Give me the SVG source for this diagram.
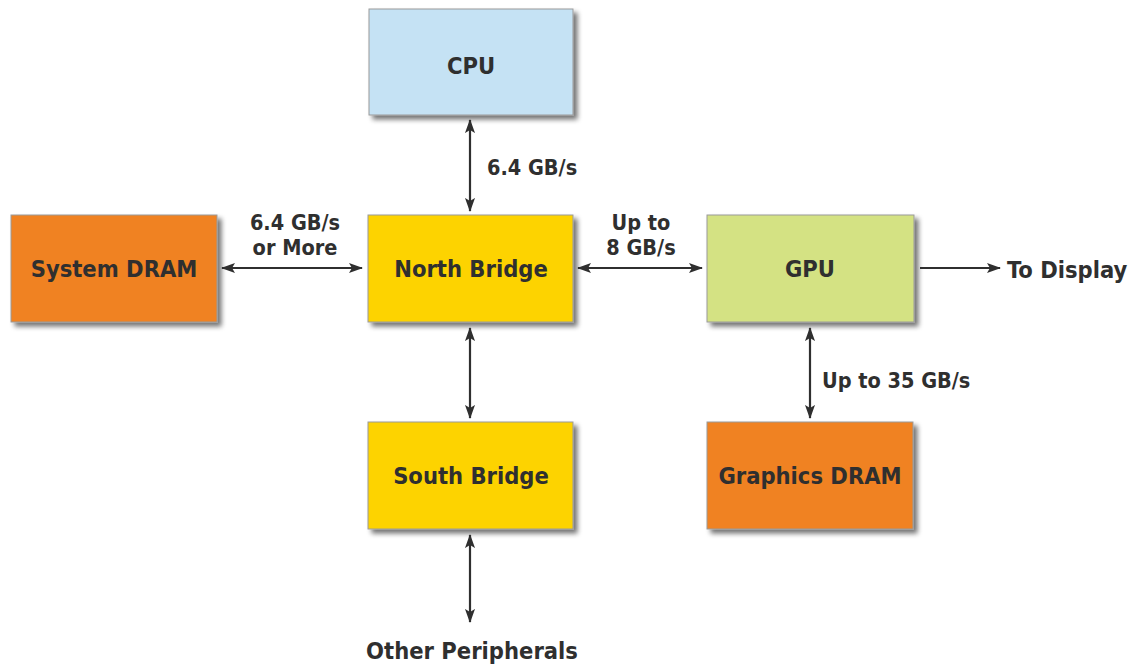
<svg xmlns="http://www.w3.org/2000/svg" width="1139" height="664" viewBox="0 0 1139 664">
<defs>
<style>
.box{stroke:#9a9a9a;stroke-width:1;filter:url(#sh)}
.t{font-family:"DejaVu Sans Condensed","DejaVu Sans",sans-serif;font-weight:bold;font-size:23.5px;fill:#2f2f2f;text-anchor:middle}
.l{font-family:"DejaVu Sans Condensed","DejaVu Sans",sans-serif;font-weight:bold;font-size:21.5px;fill:#2f2f2f}
.m{text-anchor:middle}
.s{text-anchor:start}
.c{stroke:#2f2f2f;stroke-width:2.2;fill:none}
</style>
<filter id="sh" x="-10%" y="-10%" width="130%" height="130%">
<feGaussianBlur in="SourceAlpha" stdDeviation="2.5"/>
<feOffset dx="4" dy="4" result="b"/>
<feComponentTransfer><feFuncA type="linear" slope="0.55"/></feComponentTransfer>
<feMerge><feMergeNode/><feMergeNode in="SourceGraphic"/></feMerge>
</filter>
<marker id="ah" viewBox="0 0 14 10" refX="13" refY="5" markerWidth="6.4" markerHeight="4.6" markerUnits="strokeWidth" orient="auto-start-reverse">
<path d="M0,0 L14,5 L0,10 L3,5 Z" fill="#2f2f2f"/>
</marker>
</defs>
<rect width="1139" height="664" fill="#fff"/>
<g id="cpu"><rect class="box" x="369" y="9" width="204" height="106" fill="#c5e2f4"/><text class="t" x="471" y="74">CPU</text></g>
<g id="system-dram"><rect class="box" x="11" y="215" width="206" height="107" fill="#f08221"/><text class="t" x="114" y="277">System DRAM</text></g>
<g id="north-bridge"><rect class="box" x="368" y="215" width="205" height="107" fill="#fdd300"/><text class="t" x="471" y="277">North Bridge</text></g>
<g id="gpu"><rect class="box" x="707" y="215" width="207" height="107" fill="#d4e283"/><text class="t" x="810" y="277">GPU</text></g>
<g id="south-bridge"><rect class="box" x="368" y="422" width="205" height="107" fill="#fdd300"/><text class="t" x="471" y="484">South Bridge</text></g>
<g id="graphics-dram"><rect class="box" x="707" y="422" width="206" height="107" fill="#f08221"/><text class="t" x="810" y="484">Graphics DRAM</text></g>
<g id="connectors">
<line class="c" x1="470" y1="120" x2="470" y2="211" marker-start="url(#ah)" marker-end="url(#ah)"/>
<line class="c" x1="222" y1="268" x2="362" y2="268" marker-start="url(#ah)" marker-end="url(#ah)"/>
<line class="c" x1="578" y1="268" x2="702" y2="268" marker-start="url(#ah)" marker-end="url(#ah)"/>
<line class="c" x1="920" y1="268" x2="1000" y2="268" marker-end="url(#ah)"/>
<line class="c" x1="470" y1="328" x2="470" y2="418" marker-start="url(#ah)" marker-end="url(#ah)"/>
<line class="c" x1="810" y1="328" x2="810" y2="418" marker-start="url(#ah)" marker-end="url(#ah)"/>
<line class="c" x1="470" y1="535" x2="470" y2="622" marker-start="url(#ah)" marker-end="url(#ah)"/>
</g>
<g id="labels">
<text class="l" x="487" y="175">6.4 GB/s</text>
<text class="l m" x="295" y="230">6.4 GB/s</text>
<text class="l m" x="295" y="255">or More</text>
<text class="l m" x="641" y="230">Up to</text>
<text class="l m" x="641" y="255">8 GB/s</text>
<text class="t s" x="1007" y="278">To Display</text>
<text class="l" x="822" y="388">Up to 35 GB/s</text>
<text class="t" x="472" y="659">Other Peripherals</text>
</g>
</svg>
